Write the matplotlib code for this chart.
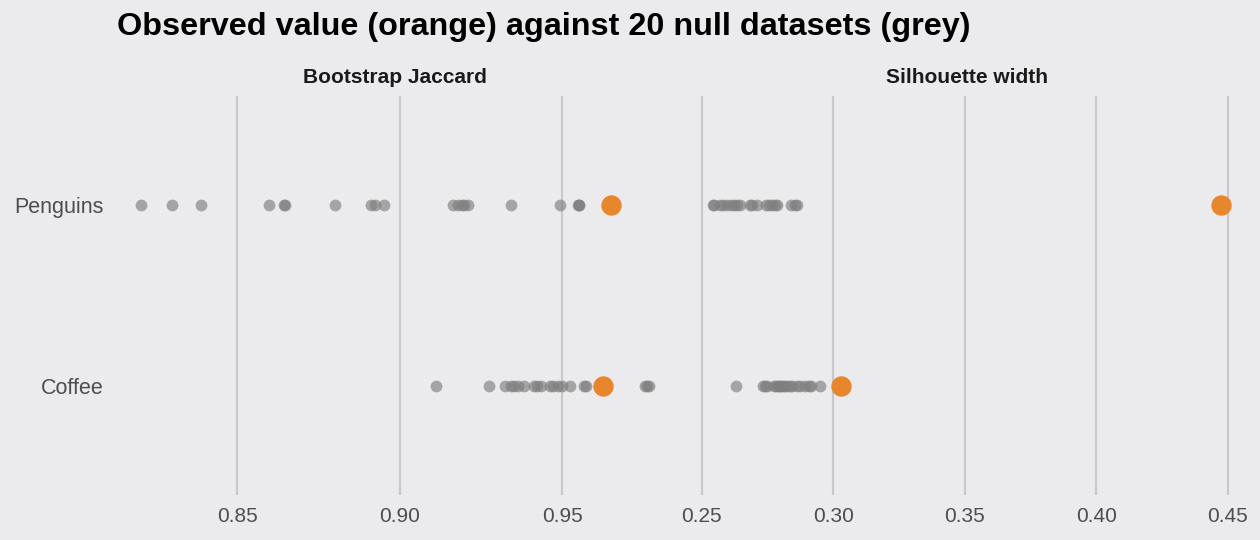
import matplotlib

matplotlib.use("Agg")
import matplotlib.pyplot as plt

DATASETS = ["Penguins", "Coffee"]
METRICS = ["Bootstrap Jaccard", "Silhouette width"]

# null values (20 per dataset) and observed value, per metric
jaccard_null_penguins = [0.8205, 0.8300, 0.8389, 0.8598, 0.8645, 0.8646, 0.8802, 0.8912,
                         0.8925, 0.8952, 0.9165, 0.9180, 0.9192, 0.9198, 0.9211, 0.9343,
                         0.9494, 0.9550, 0.9553, 0.9552]
jaccard_null_coffee = [0.9112, 0.9275, 0.9325, 0.9343, 0.9352, 0.9365, 0.9383, 0.9414,
                       0.9423, 0.9435, 0.9463, 0.9472, 0.9488, 0.9500, 0.9525, 0.9568,
                       0.9574, 0.9755, 0.9762, 0.9768]
silhouette_null_penguins = [0.2542, 0.2546, 0.2568, 0.2580, 0.2595, 0.2610, 0.2622, 0.2633,
                            0.2644, 0.2683, 0.2690, 0.2709, 0.2743, 0.2755, 0.2766, 0.2778,
                            0.2785, 0.2838, 0.2854, 0.2861]
silhouette_null_coffee = [0.2629, 0.2732, 0.2740, 0.2747, 0.2774, 0.2781, 0.2789, 0.2793,
                          0.2800, 0.2808, 0.2816, 0.2823, 0.2835, 0.2842, 0.2861, 0.2873,
                          0.2892, 0.2907, 0.2914, 0.2949]
jaccard_observed = [0.9650, 0.9625]
silhouette_observed = [0.4473, 0.3031]

jaccard_ticks = [0.85, 0.90, 0.95]
silhouette_ticks = [0.25, 0.30, 0.35, 0.40, 0.45]

BG = "#EBEBED"
GRID = "#C9C9CB"
TEXT = "#4D4D4D"
GREY = "#7F7F7F"
ORANGE = "#E8862E"

plt.rcParams["font.family"] = ["Liberation Sans", "DejaVu Sans"]

W, H = 1260.0, 540.0
fig = plt.figure(figsize=(12.6, 5.4), dpi=100, facecolor=BG)

panels = [
    (METRICS[0], [jaccard_null_penguins, jaccard_null_coffee], jaccard_observed, jaccard_ticks, 115.8, 674.5),
    (METRICS[1], [silhouette_null_penguins, silhouette_null_coffee], silhouette_observed, silhouette_ticks, 687.5, 1246.0),
]
top_px, bottom_px = 96.4, 494.6

for idx, (title, nulls, observed, ticks, x0, x1) in enumerate(panels):
    ax = fig.add_axes([x0 / W, 1 - bottom_px / H, (x1 - x0) / W, (bottom_px - top_px) / H])
    ax.set_facecolor(BG)
    for spine in ax.spines.values():
        spine.set_visible(False)

    all_vals = [v for row in nulls for v in row] + list(observed)
    lo, hi = min(all_vals), max(all_vals)
    pad = (hi - lo) * 0.05
    ax.set_xlim(lo - pad, hi + pad)
    ax.set_ylim(1.6, -0.6)

    for t in ticks:
        ax.axvline(t, color=GRID, linewidth=1.6, zorder=0)

    for row, vals in enumerate(nulls):
        ax.scatter(vals, [row] * len(vals), s=72, color=GREY, alpha=0.65,
                   linewidths=0, zorder=2)
    ax.scatter(observed, range(len(observed)), s=215, color=ORANGE,
               linewidths=0, zorder=3)

    ax.set_xticks(ticks)
    ax.set_xticklabels(["{:.2f}".format(t) for t in ticks])
    ax.tick_params(axis="x", length=0, pad=9, labelsize=15, labelcolor=TEXT)
    ax.set_yticks(range(len(DATASETS)))
    if idx == 0:
        ax.set_yticklabels(DATASETS)
        ax.tick_params(axis="y", length=0, pad=9, labelsize=15.5, labelcolor=TEXT)
    else:
        ax.set_yticklabels([])
        ax.tick_params(axis="y", length=0)

    fig.text((x0 + x1) / 2 / W, 1 - 78 / H, title, ha="center", va="center",
             fontsize=15, fontweight="bold", color="#1A1A1A")

fig.text(117 / W, 1 - 27 / H, "Observed value (orange) against 20 null datasets (grey)",
         ha="left", va="center", fontsize=23.3, fontweight="bold", color="black")

fig.savefig("out.png", dpi=100, facecolor=BG)
